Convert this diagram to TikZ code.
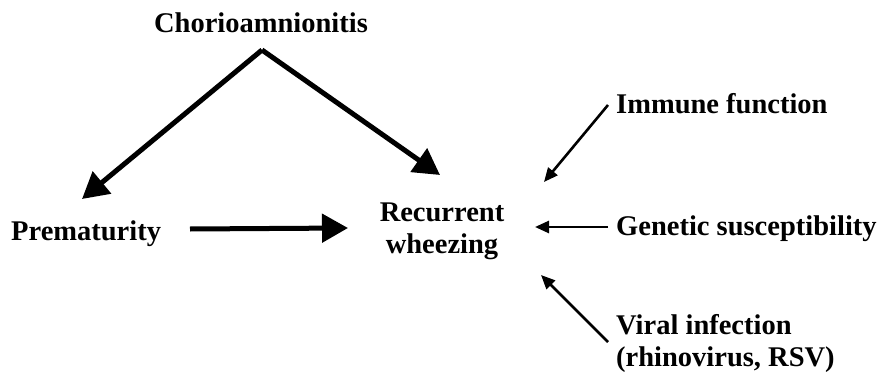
\documentclass[tikz,border=0pt]{standalone}
\usepackage{fontspec}
\setmainfont{Liberation Serif}
\usetikzlibrary{arrows.meta}
\begin{document}
\begin{tikzpicture}[x=1pt,y=1pt,
  lbl/.style={font=\bfseries\fontsize{28.5}{32}\selectfont, inner sep=0pt},
  thick arrow/.style={line width=5pt, -{Triangle[length=26pt,width=28pt]}},
  thin arrow/.style={line width=2.6pt, -{Triangle[length=14pt,width=12pt]}}]
\useasboundingbox (0,0) rectangle (880,373);
% labels
\node[lbl, anchor=base] (chorio) at (261,340) {Chorioamnionitis};
\node[lbl, anchor=base west] (prem) at (11,133) {Prematurity};
\node[lbl, anchor=base, align=center] (rw) at (442,120) {Recurrent\\wheezing};
\node[lbl, anchor=base west] (imm) at (616,260) {Immune function};
\node[lbl, anchor=base west] (gen) at (616,138) {Genetic susceptibility};
\node[lbl, anchor=base west, align=left] (vir) at (616,7) {Viral infection\\(rhinovirus, RSV)};
% connector end points
\coordinate (apex) at (262,323);
\coordinate (premtip) at (82,174);
\coordinate (rwtipA) at (440,198);
\coordinate (premout) at (190,144);
\coordinate (rwtipB) at (348,145);
\coordinate (immout) at (608,268);
\coordinate (immtip) at (544,191);
\coordinate (genout) at (608,146);
\coordinate (gentip) at (535,146);
\coordinate (virout) at (608,31);
\coordinate (virtip) at (541,98);
% connectors
\draw[thick arrow] (apex) -- (premtip);
\draw[thick arrow] (apex) -- (rwtipA);
\draw[thick arrow] (premout) -- (rwtipB);
\draw[thin arrow] (immout) -- (immtip);
\draw[thin arrow] (genout) -- (gentip);
\draw[thin arrow] (virout) -- (virtip);
\end{tikzpicture}
\end{document}
